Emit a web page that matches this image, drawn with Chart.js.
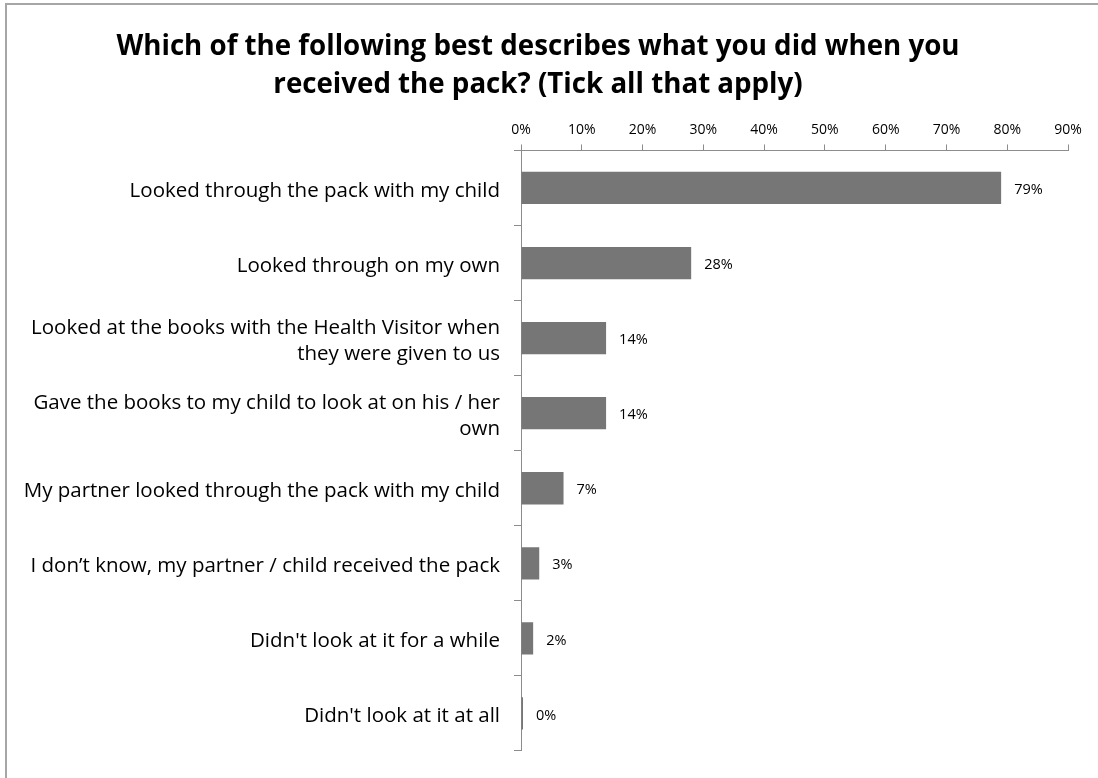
<!DOCTYPE html>
<html>
<head>
<meta charset="utf-8">
<title>Pack usage</title>
<script src="https://cdn.jsdelivr.net/npm/chart.js@4/dist/chart.umd.min.js"></script>
<style>
  html, body { margin: 0; padding: 0; background: #fff; }
  #wrap { width: 1098px; height: 778px; position: relative; }
</style>
</head>
<body>
<div id="wrap"><canvas id="c" width="1098" height="778"></canvas></div>
<script>
// Response categories (multi-line labels are arrays of lines)
const categories = [
  'Looked through the pack with my child',
  'Looked through on my own',
  ['Looked at the books with the Health Visitor when', 'they were given to us'],
  ['Gave the books to my child to look at on his / her', 'own'],
  'My partner looked through the pack with my child',
  'I don\u2019t know, my partner / child received the pack',
  "Didn't look at it for a while",
  "Didn't look at it at all"
];
// Share of respondents, percent
const percentages = [79, 28, 14, 14, 7, 3, 2, 0];
const titleLines = [
  'Which of the following best describes what you did when you',
  'received the pack? (Tick all that apply)'
];
const axisMax = 90;
const axisStep = 10;

const FONT = '"Open Sans", sans-serif';

// White background plus the frame along top and left edges
const framePlugin = {
  id: 'frame',
  beforeDraw(chart) {
    const ctx = chart.ctx;
    ctx.save();
    ctx.fillStyle = '#ffffff';
    ctx.fillRect(0, 0, chart.width, chart.height);
    ctx.strokeStyle = '#a6a6a6';
    ctx.lineWidth = 2;
    ctx.beginPath();
    ctx.moveTo(6, chart.height);
    ctx.lineTo(6, 4);
    ctx.lineTo(chart.width, 4);
    ctx.stroke();
    ctx.restore();
  }
};

// Value labels to the right of each bar
const valueLabels = {
  id: 'valueLabels',
  afterDatasetsDraw(chart) {
    const ctx = chart.ctx;
    const meta = chart.getDatasetMeta(0);
    ctx.save();
    ctx.font = '14.5px ' + FONT;
    ctx.fillStyle = '#000';
    ctx.textAlign = 'left';
    ctx.textBaseline = 'middle';
    meta.data.forEach((bar, i) => {
      ctx.fillText(percentages[i] + '%', bar.x + 13, bar.y + 2);
    });
    ctx.restore();
  }
};

new Chart(document.getElementById('c'), {
  type: 'bar',
  data: {
    labels: categories,
    datasets: [{
      data: percentages,
      backgroundColor: '#767676',
      borderWidth: 0,
      minBarLength: 2,
      categoryPercentage: 1,
      barPercentage: 0.43
    }]
  },
  options: {
    indexAxis: 'y',
    responsive: false,
    animation: false,
    layout: { padding: { top: 0, right: 30, bottom: 20, left: 8 } },
    plugins: {
      legend: { display: false },
      tooltip: { enabled: false },
      title: {
        display: true,
        text: titleLines,
        color: '#000',
        font: { family: FONT, size: 27.7, weight: 'bold', lineHeight: 1.38 },
        padding: { top: 28, bottom: 6 }
      }
    },
    scales: {
      x: {
        position: 'top',
        min: 0,
        max: axisMax,
        ticks: {
          stepSize: axisStep,
          color: '#000',
          font: { family: FONT, size: 14 },
          padding: 6,
          callback: v => v + '%'
        },
        grid: {
          drawOnChartArea: false,
          drawTicks: true,
          tickLength: 6,
          color: '#8c8c8c'
        },
        border: { display: true, color: '#8c8c8c', width: 1 },
        afterFit(scale) { scale.height = 40; }
      },
      y: {
        ticks: {
          color: '#000',
          font: { family: FONT, size: 20.5, lineHeight: 1.27 },
          padding: 14,
          labelOffset: 3,
          crossAlign: 'near'
        },
        grid: {
          offset: true,
          drawOnChartArea: false,
          drawTicks: true,
          tickLength: 7,
          color: '#8c8c8c'
        },
        border: { display: true, color: '#8c8c8c', width: 1 },
        afterFit(scale) { scale.width = 513; }
      }
    }
  },
  plugins: [framePlugin, valueLabels]
});
</script>
</body>
</html>
